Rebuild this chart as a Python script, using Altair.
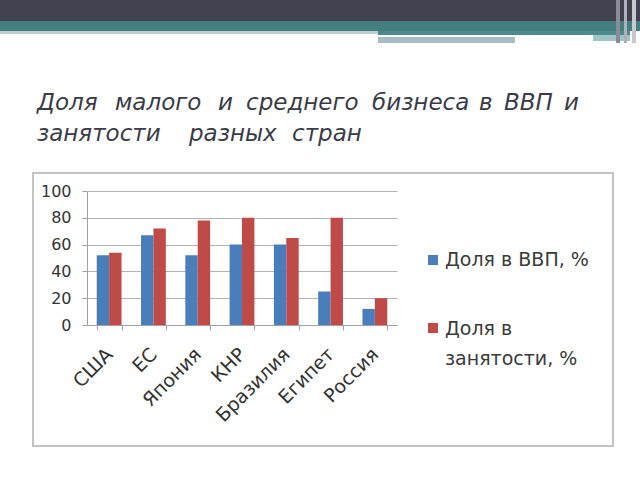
import altair as alt
import pandas as pd

countries = ["США", "ЕС", "Япония", "КНР", "Бразилия", "Египет", "Россия"]
gdp_share = [52, 67, 52, 60, 60, 25, 12]
employment_share = [54, 72, 78, 80, 65, 80, 20]
series_names = ["Доля в ВВП, %", "Доля в занятости, %"]
legend_lines = [["Доля в ВВП, %"], ["Доля в", "занятости, %"]]
title_line1 = ["Доля", "малого", "и", "среднего", "бизнеса", "в", "ВВП", "и"]
title_line2 = ["занятости", "разных", "стран"]
colors = ["#4a7ebb", "#be4b48"]

# layout: x start of each title word (pixels)
title_x1 = [37, 115, 218, 246, 372, 479, 504, 564]
title_x2 = [37, 189, 292]

rows = []
for c, g, e in zip(countries, gdp_share, employment_share):
    rows.append({"country": c, "series": series_names[0], "value": g})
    rows.append({"country": c, "series": series_names[1], "value": e})
df = pd.DataFrame(rows)

# plot area placement in the 640x480 canvas
PL, PT, PW, PH = 87, 191, 310, 134

color_scale = alt.Scale(domain=series_names, range=colors)


def deco(x0, x1, y0, y1, color):
    return alt.Chart(alt.Data(values=[{}])).mark_rect(color=color).encode(
        x=alt.value(x0 - PL), x2=alt.value(x1 - PL),
        y=alt.value(y0 - PT), y2=alt.value(y1 - PT))


def box(x0, x1, y0, y1, color, width):
    return alt.Chart(alt.Data(values=[{}])).mark_rect(
        fill=None, fillOpacity=0, stroke=color, strokeWidth=width).encode(
        x=alt.value(x0 - PL), x2=alt.value(x1 - PL),
        y=alt.value(y0 - PT), y2=alt.value(y1 - PT))


def title_word(s, x, y):
    return alt.Chart(alt.Data(values=[{}])).mark_text(
        text=s, align="left", baseline="alphabetic", font="DejaVu Sans",
        fontStyle="italic", fontSize=23, color="#3b3b47"
    ).encode(x=alt.value(x - PL), y=alt.value(y - PT))


def legend_entry(name, lines, sx, sy, tx, ty):
    sym = alt.Chart(alt.Data(values=[{"series": name}])).mark_square(
        size=100, opacity=1).encode(
        x=alt.value(sx - PL), y=alt.value(sy - PT),
        color=alt.Color("series:N", scale=color_scale, legend=None))
    txt = alt.Chart(alt.Data(values=[{"series": name}])).mark_text(
        text=lines, align="left", baseline="alphabetic", font="DejaVu Sans",
        fontSize=19, lineHeight=30, color="#3a3a3a").encode(
        x=alt.value(tx - PL), y=alt.value(ty - PT))
    return [sym, txt]


decor = [
    deco(0, 640, 0, 21, "#41414f"),
    deco(0, 640, 21, 31, "#437f7f"),
    deco(0, 378, 31, 34, "#b9cfd2"),
    deco(378, 630, 31, 35, "#4e8a8b"),
    deco(378, 593, 35, 37, "#ffffff"),
    deco(378, 515, 37, 43, "#a7bdc1"),
    deco(593, 630, 35, 41, "#9ec4c6"),
    deco(616, 620, 0, 43, "#8a8a98"),
    deco(624, 627, 0, 43, "#b0b0bc"),
    deco(632, 636, 0, 43, "#c8c8d0"),
    box(33, 613, 173, 446, "#c4c4c4", 2),
]
decor += [title_word(w, x, 110) for w, x in zip(title_line1, title_x1)]
decor += [title_word(w, x, 141) for w, x in zip(title_line2, title_x2)]

legend_layers = (legend_entry(series_names[0], legend_lines[0], 433, 260, 445, 266)
                 + legend_entry(series_names[1], legend_lines[1], 433, 328, 445, 335))

bars = alt.Chart(df).mark_bar().encode(
    x=alt.X("country:N", sort=countries, title=None,
            scale=alt.Scale(paddingInner=0.44, paddingOuter=0.22),
            axis=alt.Axis(labelAngle=-45, labelFontSize=19, labelFont="DejaVu Sans",
                          labelColor="#333333", labelPadding=21, tickBand="extent",
                          tickSize=5, tickColor="#a0a0a0", domainColor="#a0a0a0",
                          labelAlign="right", labelBaseline="middle")),
    xOffset=alt.XOffset("series:N", sort=series_names),
    y=alt.Y("value:Q", title=None,
            scale=alt.Scale(domain=[0, 100]),
            axis=alt.Axis(values=[0, 20, 40, 60, 80, 100], labelFontSize=16,
                          labelFont="DejaVu Sans", labelColor="#333333",
                          tickSize=5, tickColor="#a0a0a0", domainColor="#a0a0a0",
                          gridColor="#b4b4b4", labelPadding=11)),
    color=alt.Color("series:N", sort=series_names, scale=color_scale, legend=None),
)

chart = alt.layer(*decor, bars, *legend_layers).properties(
    width=PW, height=PH,
    autosize=alt.AutoSizeParams(type="none"),
    padding={"left": PL, "top": PT, "right": 640 - PL - PW, "bottom": 480 - PT - PH},
    background="#ffffff",
).configure_view(stroke=None)

chart.save("out.html", embed_options={"renderer": "svg", "actions": False})
